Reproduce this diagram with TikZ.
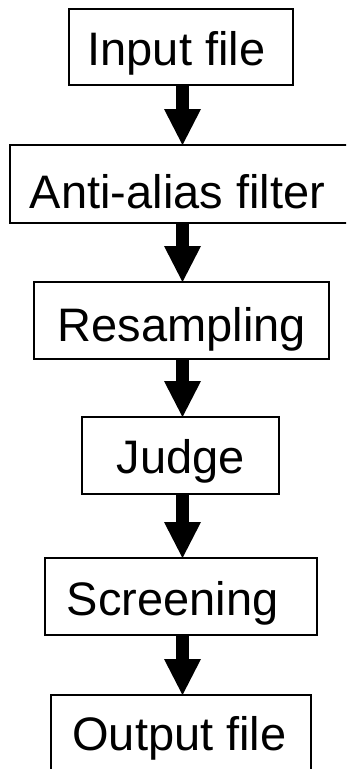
\documentclass[tikz,border=0pt]{standalone}
\usepackage{fontspec}
\setmainfont{Liberation Sans}
\usetikzlibrary{arrows.meta}
\begin{document}
\begin{tikzpicture}[x=1pt,y=-1pt,
  stagebox/.style={draw=black, line width=1.5pt, rectangle, inner sep=0pt, outer sep=0pt},
  lbl/.style={inner sep=0pt, anchor=base, font=\fontsize{47}{56}\selectfont},
  flow/.style={line width=13pt, -{Triangle[width=37pt, length=36pt, line width=0pt]}}]
\useasboundingbox (0,0) rectangle (346,769);
\begin{scope}
\clip (0,0) rectangle (346,769);
% processing stages
\node[stagebox, minimum width=224pt, minimum height=76pt] (in) at (181,47) {};
\node[stagebox, minimum width=342pt, minimum height=78pt] (aa) at (181,184) {};
\node[stagebox, minimum width=295pt, minimum height=77pt] (rs) at (181.5,320.5) {};
\node[stagebox, minimum width=197pt, minimum height=77pt] (jd) at (180.5,455.5) {};
\node[stagebox, minimum width=272pt, minimum height=77pt] (sc) at (181,596.5) {};
\node[stagebox, minimum width=260pt, minimum height=80pt] (of) at (181,735) {};
% stage names
\node[lbl] (tin) at (176.5,65) {Input file};
\node[lbl] (taa) at (177.5,208) {Anti-alias filter};
\node[lbl] (trs) at (182,341) {Resampling};
\node[lbl] (tjd) at (181,473) {Judge};
\node[lbl] (tsc) at (172.5,615) {Screening};
\node[lbl] (tof) at (179.5,750) {Output file};
% flow arrows
\coordinate (ax) at (182.5,0);
\draw[flow] (in.south -| ax) -- (aa.north -| ax);
\draw[flow] (aa.south -| ax) -- (rs.north -| ax);
\draw[flow] (rs.south -| ax) -- (jd.north -| ax);
\draw[flow] (jd.south -| ax) -- (sc.north -| ax);
\draw[flow] (sc.south -| ax) -- (of.north -| ax);
\end{scope}
\end{tikzpicture}
\end{document}
